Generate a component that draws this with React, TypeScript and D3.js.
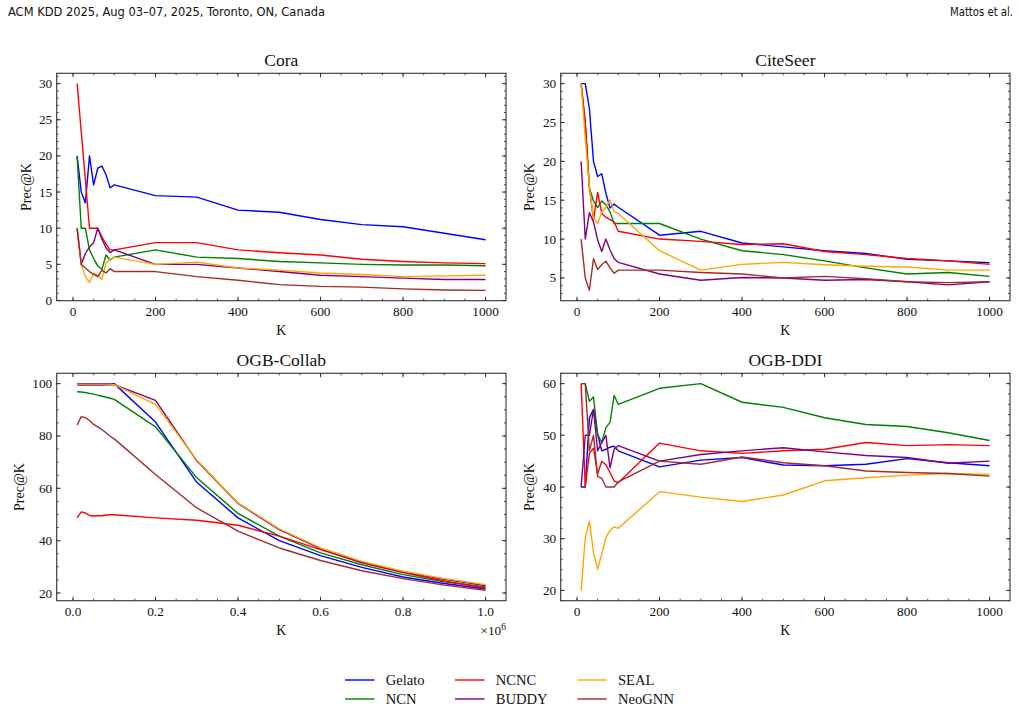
import React from "react";
import * as d3 from "d3";

// K values
const kSmall = [10, 20, 30, 40, 50, 60, 70, 80, 90, 100, 200, 300, 400, 500, 600, 700, 800, 900, 1000];
const kCollab = [
  10000, 20000, 30000, 40000, 50000, 60000, 70000, 80000, 90000, 100000,
  200000, 300000, 400000, 500000, 600000, 700000, 800000, 900000, 1000000,
];

const methods = ["Gelato", "NCN", "NCNC", "BUDDY", "SEAL", "NeoGNN"];
const colors = ["#0000ff", "#008000", "#ff0000", "#800080", "#ffa500", "#a52a2a"];

// Cora
const coraGelato = [20, 15, 13.5, 20, 16, 18.3, 18.6, 17.4, 15.6, 16, 14.5, 14.3, 12.5, 12.2, 11.2, 10.5, 10.2, 9.3, 8.4];
const coraNCN = [20, 10, 10, 7, 5.8, 4.8, 4.3, 6.3, 5.6, 6, 7, 6, 5.8, 5.4, 5.2, 5, 4.9, 4.9, 4.8];
const coraNCNC = [30, 23.3, 16.7, 10, 10, 10, 8.8, 7.8, 7, 7, 8, 8, 7, 6.6, 6.3, 5.7, 5.4, 5.2, 5.1];
const coraBUDDY = [10, 5, 6.5, 7.4, 8, 10, 8.5, 7.3, 6.6, 7, 5, 5, 4.5, 4, 3.5, 3.3, 3.1, 2.9, 2.9];
const coraSEAL = [10, 5, 3.3, 2.5, 3.8, 3.5, 2.9, 5.2, 5.7, 6, 5, 5.3, 4.5, 4.2, 3.8, 3.6, 3.3, 3.4, 3.5];
const coraNeoGNN = [10, 5, 4.5, 4, 3.6, 3.3, 4.2, 3.8, 4.4, 4, 4, 3.3, 2.8, 2.2, 1.95, 1.85, 1.6, 1.45, 1.4];

// CiteSeer
const citeGelato = [30, 30, 26.8, 20, 18.05, 18.4, 15.9, 14, 14.5, 14.1, 10.5, 11, 9.5, 9, 8.5, 8.15, 7.4, 7.2, 6.95];
const citeNCN = [30, 25, 16.6, 14.9, 14.05, 14.9, 14.4, 13.5, 12, 12, 12, 10, 8.5, 8, 7.2, 6.3, 5.5, 5.7, 5.2];
const citeNCNC = [30, 25, 16.7, 12.5, 16, 13.3, 12.8, 12.5, 12.2, 11, 10, 9.7, 9.3, 9.4, 8.4, 8, 7.5, 7.2, 6.75];
const citeBUDDY = [20, 10, 13.4, 12.2, 9.9, 8.4, 10, 8.6, 7.5, 7, 5.5, 4.7, 5.05, 5, 4.7, 4.8, 4.5, 4.1, 4.5];
const citeSEAL = [30, 23, 16.8, 12.7, 12, 13.5, 14.1, 15, 13.5, 13.3, 8.5, 6, 6.75, 7, 6.7, 6.5, 6.4, 6, 6];
const citeNeoGNN = [10, 5, 3.4, 7.5, 6.1, 6.7, 7.15, 6.3, 5.6, 6, 6, 5.7, 5.5, 5, 5.2, 4.9, 4.5, 4.4, 4.5];

// OGB-Collab
const collabGelato = [100, 100, 100, 100, 100, 100, 100, 100, 100, 100, 85.3, 62.3, 48.7, 40, 34.3, 29.8, 26.1, 23.6, 21.5];
const collabNCN = [96.9, 96.8, 96.6, 96.3, 96, 95.6, 95.2, 94.8, 94.4, 94, 83.5, 64, 50.4, 41.7, 35.3, 30.8, 27, 24.3, 22.3];
const collabNCNC = [48.7, 51, 50.6, 49.6, 49.4, 49.5, 49.5, 49.8, 49.9, 49.9, 48.7, 47.8, 45.9, 41.7, 36.6, 31.5, 27.8, 24.6, 21.9];
const collabBUDDY = [99.5, 99.5, 99.5, 99.5, 99.5, 99.5, 99.5, 99.6, 99.6, 99.6, 93.6, 70.5, 54.2, 44.2, 37, 31.8, 28, 25.2, 22.8];
const collabSEAL = [99.8, 99.8, 99.8, 99.8, 99.8, 99.8, 99.8, 99.8, 99.8, 99.6, 92.1, 70.8, 54.4, 44.5, 37.2, 32.1, 28.3, 25.5, 23.2];
const collabNeoGNN = [84.2, 87.4, 87, 85.9, 84.4, 83.5, 82.5, 81.2, 79.9, 78.9, 65.3, 52.5, 43.6, 37.2, 32.4, 28.5, 25.5, 23, 21];

// OGB-DDI
const ddiGelato = [40, 40, 53.4, 55, 50.2, 47, 47.3, 47.7, 47.9, 47, 43.9, 45.2, 45.7, 44.25, 44.1, 44.4, 45.5, 44.7, 44.1];
const ddiNCN = [60, 60, 56.6, 57.4, 50.2, 48.6, 51.5, 52.5, 57.7, 56, 59.1, 60, 56.4, 55.4, 53.4, 52.1, 51.7, 50.5, 49];
const ddiNCNC = [60, 40, 46.5, 47.5, 42.5, 45, 44.3, 42.8, 41.2, 40.8, 48.5, 47, 46.5, 47, 47.3, 48.6, 48, 48.2, 48];
const ddiBUDDY = [40, 50, 50, 55, 47, 48.6, 50, 43.7, 47.3, 48, 45, 46.3, 47, 47.6, 46.8, 46.1, 45.7, 44.6, 45];
const ddiSEAL = [20, 30.2, 33.4, 27.3, 24.1, 27, 30.2, 31.6, 32.3, 32, 39.1, 38.05, 37.2, 38.45, 41.2, 41.8, 42.3, 42.6, 42.45];
const ddiNeoGNN = [60, 60, 47, 50, 42, 41.7, 40, 40, 40, 41, 45, 44.4, 45.8, 44.7, 44.1, 43.1, 42.8, 42.6, 42.1];

const serif = "'Liberation Serif', 'Times New Roman', serif";
const W = 1021;
const H = 711;
const PW = 449.3;
const PH = 227.4;

type PanelProps = {
  title: string;
  xs: number[];
  series: number[][];
  left: number;
  top: number;
  xStep: number;
  xMinor: number;
  yStep: number;
  yMinor: number;
  xFmt: (v: number) => string;
  ylabelOff: number;
  offsetText?: boolean;
};

// matplotlib-like 5% padding
function padded(vals: number[]): [number, number] {
  const [lo, hi] = d3.extent(vals) as [number, number];
  const m = (hi - lo) * 0.05;
  return [lo - m, hi + m];
}

function stepTicks(domain: [number, number], step: number) {
  const out: number[] = [];
  const start = Math.ceil(domain[0] / step - 1e-9);
  const end = Math.floor(domain[1] / step + 1e-9);
  for (let i = start; i <= end; i++) out.push(+(i * step).toFixed(10));
  return out;
}

function Panel(p: PanelProps) {
  const x = d3.scaleLinear().domain(padded(p.xs)).range([p.left, p.left + PW]);
  const y = d3.scaleLinear().domain(padded(p.series.flat())).range([p.top + PH, p.top]);
  const xMaj = stepTicks(x.domain() as [number, number], p.xStep);
  const yMaj = stepTicks(y.domain() as [number, number], p.yStep);
  const xMin = stepTicks(x.domain() as [number, number], p.xMinor);
  const yMin = stepTicks(y.domain() as [number, number], p.yMinor);
  const line = d3
    .line<number>()
    .x((_, i) => x(p.xs[i]))
    .y((d) => y(d));
  const bottom = p.top + PH;
  const right = p.left + PW;
  const tick = "#222";

  return (
    <g>
      <clipPath id={"clip-" + p.title}>
        <rect x={p.left} y={p.top} width={PW} height={PH} />
      </clipPath>
      <g clipPath={`url(#clip-${p.title})`}>
        {p.series.map((s, i) => (
          <path key={i} d={line(s) ?? ""} fill="none" stroke={colors[i]} strokeWidth={1.4} strokeLinejoin="round" />
        ))}
      </g>
      {/* minor ticks, all four sides, pointing in */}
      {xMin.map((v) => (
        <g key={"xm" + v}>
          <line x1={x(v)} x2={x(v)} y1={bottom} y2={bottom - 2} stroke={tick} strokeWidth={0.8} />
          <line x1={x(v)} x2={x(v)} y1={p.top} y2={p.top + 2} stroke={tick} strokeWidth={0.8} />
        </g>
      ))}
      {yMin.map((v) => (
        <g key={"ym" + v}>
          <line x1={p.left} x2={p.left + 2} y1={y(v)} y2={y(v)} stroke={tick} strokeWidth={0.8} />
          <line x1={right} x2={right - 2} y1={y(v)} y2={y(v)} stroke={tick} strokeWidth={0.8} />
        </g>
      ))}
      {xMaj.map((v) => (
        <g key={"xM" + v}>
          <line x1={x(v)} x2={x(v)} y1={bottom} y2={bottom - 4} stroke={tick} strokeWidth={0.9} />
          <line x1={x(v)} x2={x(v)} y1={p.top} y2={p.top + 4} stroke={tick} strokeWidth={0.9} />
          <text x={x(v)} y={bottom + 15.5} textAnchor="middle" fontSize={13.3} fontFamily={serif} fill="#111">
            {p.xFmt(v)}
          </text>
        </g>
      ))}
      {yMaj.map((v) => (
        <g key={"yM" + v}>
          <line x1={p.left} x2={p.left + 4} y1={y(v)} y2={y(v)} stroke={tick} strokeWidth={0.9} />
          <line x1={right} x2={right - 4} y1={y(v)} y2={y(v)} stroke={tick} strokeWidth={0.9} />
          <text x={p.left - 4.5} y={y(v)} dy="0.34em" textAnchor="end" fontSize={13.3} fontFamily={serif} fill="#111">
            {v}
          </text>
        </g>
      ))}
      <rect x={p.left} y={p.top} width={PW} height={PH} fill="none" stroke="#333" strokeWidth={1.1} />
      <text x={p.left + PW / 2} y={p.top - 7.3} textAnchor="middle" fontSize={17.5} fontFamily={serif} fill="#111">
        {p.title}
      </text>
      <text x={p.left + PW / 2} y={bottom + 34.4} textAnchor="middle" fontSize={14} fontFamily={serif} fill="#111">
        K
      </text>
      <text
        transform={`translate(${p.left + p.ylabelOff},${p.top + PH / 2}) rotate(-90)`}
        textAnchor="middle"
        fontSize={14}
        fontFamily={serif}
        fill="#111"
      >
        Prec@K
      </text>
      {p.offsetText && (
        <text x={right} y={bottom + 34.4} textAnchor="end" fontSize={13.3} fontFamily={serif} fill="#111">
          ×10
          <tspan dy={-5.5} fontSize={9.5}>
            6
          </tspan>
        </text>
      )}
    </g>
  );
}

const legendCols = [345, 455, 577.3];
const legendRows = [680, 699];

export default function App() {
  const fmtInt = (v: number) => String(v);
  const fmtMega = (v: number) => (v / 1e6).toFixed(1);
  return (
    <svg
      width={W}
      height={H}
      style={{ position: "absolute", left: 0, top: 0, background: "#fff" }}
    >
      <text
        x={8}
        y={16}
        fontSize={11.5}
        fontFamily="'Liberation Sans Narrow', 'DejaVu Sans Condensed', sans-serif"
        textLength={317}
        lengthAdjust="spacingAndGlyphs"
        fill="#111"
      >
        ACM KDD 2025, Aug 03–07, 2025, Toronto, ON, Canada
      </text>
      <text
        x={1013}
        y={16}
        fontSize={11.5}
        textAnchor="end"
        fontFamily="'Liberation Sans Narrow', 'DejaVu Sans Condensed', sans-serif"
        textLength={63}
        lengthAdjust="spacingAndGlyphs"
        fill="#111"
      >
        Mattos et al.
      </text>

      <Panel
        title="Cora"
        xs={kSmall}
        series={[coraGelato, coraNCN, coraNCNC, coraBUDDY, coraSEAL, coraNeoGNN]}
        left={56.7}
        top={73.3}
        xStep={200}
        xMinor={50}
        yStep={5}
        yMinor={1}
        xFmt={fmtInt}
        ylabelOff={-26}
      />
      <Panel
        title="CiteSeer"
        xs={kSmall}
        series={[citeGelato, citeNCN, citeNCNC, citeBUDDY, citeSEAL, citeNeoGNN]}
        left={560.7}
        top={73.3}
        xStep={200}
        xMinor={50}
        yStep={5}
        yMinor={1}
        xFmt={fmtInt}
        ylabelOff={-26.7}
      />
      <Panel
        title="OGB-Collab"
        xs={kCollab}
        series={[collabGelato, collabNCN, collabNCNC, collabBUDDY, collabSEAL, collabNeoGNN]}
        left={56.7}
        top={373.3}
        xStep={200000}
        xMinor={50000}
        yStep={20}
        yMinor={5}
        xFmt={fmtMega}
        ylabelOff={-32.7}
        offsetText
      />
      <Panel
        title="OGB-DDI"
        xs={kSmall}
        series={[ddiGelato, ddiNCN, ddiNCNC, ddiBUDDY, ddiSEAL, ddiNeoGNN]}
        left={560.7}
        top={373.3}
        xStep={200}
        xMinor={50}
        yStep={10}
        yMinor={2}
        xFmt={fmtInt}
        ylabelOff={-26.7}
      />

      {/* legend: 3 columns, filled column-wise like matplotlib */}
      {methods.map((m, i) => {
        const cx = legendCols[Math.floor(i / 2)];
        const cy = legendRows[i % 2];
        return (
          <g key={m}>
            <line x1={cx} x2={cx + 29.5} y1={cy} y2={cy} stroke={colors[i]} strokeWidth={1.4} />
            <text x={cx + 40.7} y={cy} dy="0.36em" fontSize={14.6} fontFamily={serif} fill="#111">
              {m}
            </text>
          </g>
        );
      })}
    </svg>
  );
}
